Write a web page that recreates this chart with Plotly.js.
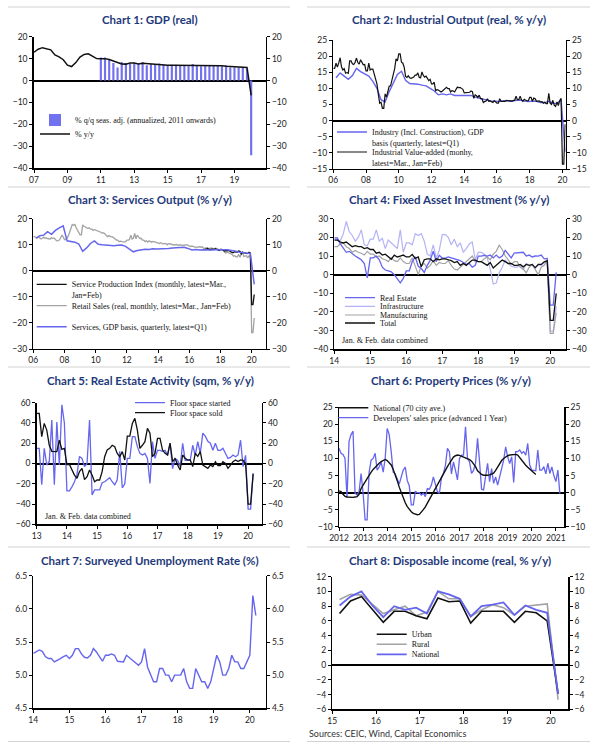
<!DOCTYPE html>
<html><head><meta charset="utf-8">
<script src="https://cdn.plot.ly/plotly-3.0.1.min.js"></script>
<style>html,body{margin:0;padding:0;background:#fff}#chart{width:600px;height:748px}</style>
</head><body><div id="chart"></div>
<script>
// ---------------- DATA ----------------
// Chart 1: GDP (real), quarterly from 2007Q1 / bars from 2011Q1
var gdpYoY = [12.9,14.3,15.0,14.4, 14.0,11.7,10.8,9.5, 7.0,6.4,8.2,10.7, 11.9,12.2,11.0,10.0,
  9.9,10.0,9.6,9.0, 8.1,7.6,7.5,8.0, 8.0,7.6,7.9,7.7, 7.5,7.5,7.2,7.2, 7.0,7.0,7.0,6.8,
  6.8,6.7,6.7,6.8, 6.9,6.9,6.8,6.8, 6.8,6.7,6.5,6.4, 6.3,6.2,6.0,6.0, -6.8];
var gdpQoQ = [10.5,10.5,9.5,8, 6,8.5,8,7.5, 8,7.5,8.5,7, 7.5,7.5,7.8,7.3, 7,7.2,7.2,7,
  7,6.5,7.5,7, 6.5,7,7,7, 7,6.5,7,6, 6,6,6,5.5, -34];
var xTicks1 = [2007,2009,2011,2013,2015,2017,2019];
var xLabels1 = ['07','09','11','13','15','17','19'];

// Chart 2: Industrial output, IVA monthly (Jan=Feb) from Jan 2006; GDP basis quarterly from 2006Q1
var iva = [16.2,16.2,17.8,16.6,17.9,19.5,16.7,15.7,16.1,14.7,14.9,14.7,
  18.5,18.5,17.6,17.4,18.1,19.4,18.0,17.5,18.9,17.9,17.3,17.4,
  15.4,15.4,17.8,15.7,16.0,16.0,14.7,12.8,11.4,8.2,5.4,5.7,
  3.8,3.8,8.3,7.3,8.9,10.7,10.8,12.3,13.9,16.1,19.2,18.5,
  20.7,20.7,18.1,17.8,16.5,13.7,13.4,13.9,13.3,13.1,13.3,13.5,
  14.1,14.1,14.8,13.4,13.3,15.1,14.0,13.5,13.8,13.2,12.4,12.8,
  11.4,11.4,11.9,9.3,9.6,9.5,9.2,8.9,9.2,9.6,10.1,10.3,
  9.9,9.9,8.9,9.3,9.2,8.9,9.7,10.4,10.2,10.3,10.0,9.7,
  8.6,8.6,8.8,8.7,8.8,9.2,9.0,6.9,8.0,7.7,7.2,7.9,
  6.8,6.8,5.6,5.9,6.1,6.8,6.0,6.1,5.7,5.6,6.2,5.9,
  5.4,5.4,6.8,6.0,6.0,6.2,6.0,6.3,6.1,6.1,6.2,6.0,
  6.3,6.3,7.6,6.5,6.5,7.6,6.4,6.0,6.6,6.2,6.1,6.2,
  7.2,7.2,6.0,7.0,6.8,6.0,6.0,6.1,5.8,5.9,5.4,5.7,
  5.3,5.3,8.5,5.4,5.0,6.3,4.8,4.4,5.8,4.7,6.2,6.9,
  -13.5,-13.5,-1.1];
var industryGdp = [13.3,14.8,13.8,12.8, 14.0,16.2,15.2,14.6, 13.8,12.2,10.0,6.5, 5.8,9.0,11.5,14.3,
  15.3,12.5,11.5,11.5, 11.3,11.0,10.8,10.0, 9.2,8.0,8.3,8.0, 8.3,7.8,7.8,8.0, 8.0,7.8,7.3,7.0,
  6.5,6.3,6.0,6.0, 5.9,6.2,6.1,6.0, 6.3,6.4,6.1,5.9, 6.1,6.0,5.6,5.6, 6.0,5.4,5.3,6.5, -9.6];
var xTicks2 = [2006,2008,2010,2012,2014,2016,2018,2020];
var xLabels2 = ['06','08','10','12','14','16','18','20'];

// Chart 3: Services output
var retailReal = [13.1,13.1,12.8,12.6,13.0,12.6,12.2,12.5,12.9,12.5,12.6,12.4,
  12.2,12.2,12.7,12.4,12.6,12.2,11.5,11.6,11.8,12.6,13.7,13.0,
  12.0,12.0,12.5,13.5,15.0,16.9,17.8,17.5,17.8,16.5,15.6,14.4,
  13.8,13.8,17.6,17.0,16.9,16.5,16.3,16.5,16.0,16.0,15.6,15.8,
  15.6,15.6,15.2,15.0,14.8,14.4,14.6,14.2,13.6,13.1,13.5,13.1,
  13.0,13.0,12.5,12.0,11.8,11.8,11.2,11.4,11.2,11.2,11.0,11.2,
  11.8,11.8,12.0,13.7,12.2,12.5,14.4,12.3,13.7,13.0,12.4,12.5,
  11.8,11.8,11.2,11.5,11.0,11.5,11.2,11.0,11.3,11.0,11.0,10.8,
  10.5,10.5,10.8,10.5,10.3,10.5,10.4,10.0,10.5,10.3,10.3,10.0,
  9.9,9.9,10.2,9.8,9.9,10.0,9.9,9.8,10.0,9.9,10.0,9.8,
  9.3,9.3,9.5,9.4,9.3,9.0,9.2,9.0,9.3,9.0,9.2,8.6,
  8.7,8.7,8.9,8.5,8.6,8.8,8.6,8.5,8.7,8.6,8.4,8.0,
  8.0,8.0,8.0,7.3,6.8,7.2,7.0,6.8,6.6,6.3,5.6,5.8,
  5.4,5.4,6.3,5.2,6.4,7.1,5.5,5.7,5.8,4.9,5.9,5.0,
  -23.7,-23.7,-18.1];
var serviceIndex = [8.3,8.3,8.6,8.3,8.1,8.3,8.3,8.2,8.5,8.1,8.0,7.8,
  8.2,8.2,7.8,7.6,7.7,7.9,7.8,7.6,7.2,7.0,7.0,7.4,
  7.2,7.2,7.6,7.5,6.5,7.2,6.9,6.8,6.9,6.6,7.1,6.8,
  -13.0,-13.0,-9.1];
var servicesGdp = [12.5,13.5,13.7,15.0, 14.0,15.5,16.5,17.3, 11.5,11.2,11.0,10.3, 7.5,8.8,10.5,11.5,
  10.2,10.0,9.8,9.8, 9.6,9.8,9.9,9.4, 8.5,7.3,7.8,8.0, 8.3,8.2,8.5,8.4, 8.4,8.4,8.6,8.8,
  8.9,8.9,9.0,8.6, 8.0,8.2,8.0,8.1, 8.0,8.0,8.1,8.2, 8.1,8.1,7.9,7.6, 7.2,7.0,6.9,6.6, -5.2];

// Chart 4: Fixed asset investment, monthly from Jan 2014
var faiRealEstate = [19.7,19.7,16.5,14,12,12.5,11,10,9,8,6,-1.7,
  9,9,10,8,4,2.5,2,1.5,0,-2.4,-4.4,-2,
  2,2,7,9.5,4.5,3.3,1.2,5,7.8,12.6,7,10.4,
  8.9,8.9,9.5,9,8.5,7.9,7.5,6.5,5.5,6,4,5,
  9.9,9.9,10.4,10,10.5,9,10.5,9,10,13,11,9,
  11.6,11.6,11.8,12,10,10.5,9.5,10,9.9,10.5,8.5,8.7,
  -16.3,-16.3,1.2];
var faiInfra = [19,19,18,22,28.5,23,21,18,20,24,16,15.5,
  19,19,24,18,19.5,14,18.5,17,15,14,24,12,
  17,17,16,22,21,22,18,11,10,16,9,13,
  21.5,21.5,20,16,19,15,17,12,14,16.5,17.5,8,
  12,12,11,9,3,-5,-4.5,1,4,7.8,6,4.5,
  4,4,5,2.5,6,5,5,3.5,5,5,6.5,7,
  -30.3,-30.3,-17];
var faiManuf = [15,15,16.5,17,15,14,12,13,12,11.5,10.5,12.5,
  11,11,9.5,10,8.5,8,7,9,7.5,7,9,7,
  6,6,9,4,0,5,6,3.5,5,7.5,5,6.5,
  6,6,7.5,5,3,2.5,4,5,6.5,8,10,7,
  7,7,8.5,9.5,8,11,12.5,15.8,13.5,10,8,5.5,
  7,7,4,3,1,4,5.5,3,0,4,5,7.5,
  -31.5,-31.5,-20.5];
var faiTotal = [18.5,18.5,17.5,17,17.5,16,15,15.5,15,15,14,14.5,
  13.5,13.5,11.5,12,10.5,11,9.5,8.3,10.5,9.5,10,10.5,
  9.5,9.5,10.8,8.7,9.5,4.2,8,8.5,8.5,7,8.5,8,
  8.5,8.5,8,7.5,6.5,7,5,6,5,6.5,7.8,7.8,
  7,7,6,5,6.5,3.6,5,6.5,7.8,7,6,6,
  5,5,5.5,4.2,5.5,5,5.5,3.8,5.5,5.5,6.9,7.5,
  -24.5,-24.5,-10];
var xTicks4 = [2014,2015,2016,2017,2018,2019,2020];
var xLabels4 = ['14','15','16','17','18','19','20'];

// Chart 5: Real estate activity, monthly from Jan 2013
var floorStarted = [15,15,-21,15,-1.5,2,43,-21,41,-1.5,58,40,
  -27,-27,-23,-18,-11,7,5,-3,0,43,-31,-26,
  -26,-26,-19,-18,-16,-14,-18,-21,-16,12,-24,-20,
  5,5,26.5,26.5,16.6,10,8.4,10,5,-19.6,21.5,5,
  13,13,12,13,8,20,-5,5,3,-3,20,3,
  3,3,18,8,21.5,10,30,27,22,20,13,20,
  13,13,15,10,5,6,8.4,6.7,8.4,23,-3,8,
  -45,-45,-10];
var floorSold = [49.5,49.5,26.5,39.6,33,18,12,12,11.7,23,14,15,
  -1,-1,-6.4,-11.4,-14.6,-8,-4.8,-16,-13,-6.4,-11.4,-18,
  -16.3,-16.3,-8,6.7,13.3,15,18,16.6,10,6.7,11.7,3.5,
  27,27,39.6,44.6,33,15,18,21.5,34.7,29.8,6.7,10,
  24.8,24.8,13.3,10,8.4,20,1.8,5,-1.5,-6.4,8.4,5,
  3.5,3.5,-3,10,7,11.7,-1.5,-3,-4.8,-1.5,-3,1.8,
  -2,-2,1.8,0,-4.8,-1.5,1.8,3.5,2,3.5,3,0,
  -40,-40,-10];
var xTicks5 = [2013,2014,2015,2016,2017,2018,2019,2020];
var xLabels5 = ['13','14','15','16','17','18','19','20'];

// Chart 6: Property prices, monthly from Jan 2012
var national70 = [0.5,0.3,-0.5,-1.1,-1.3,-1.4,-1.4,-1.4,-1.3,-1.2,-0.5,1.2,
  2.2,3.2,4.3,5.3,6.0,6.8,7.5,8.1,8.6,9.1,9.5,9.7,
  9.4,8.8,8.1,6.8,5.3,3.5,1.6,0,-1.6,-3,-4.1,-4.9,
  -5.6,-6.1,-6.4,-6.5,-6.4,-5.8,-5.0,-4.2,-3.1,-2.1,-1.0,0.3,
  1.2,2.2,3.3,4.5,5.6,6.5,7.6,8.6,9.6,10.4,10.8,11.0,
  10.9,10.7,10.4,10.2,10.0,9.7,9.2,8.5,7.6,6.4,5.8,5.3,
  5.1,5.0,5.1,5.2,5.4,5.7,6.5,7.6,8.6,9.4,10.0,10.5,
  10.8,11.0,11.1,11.2,11.2,11.0,10.2,9.4,8.6,8.0,7.4,6.9,
  6.3,5.8,5.3];
var developersPrice = [13,11.5,11.2,10,-1.5,15,17,18,-0.2,-0.7,0.3,5.6,
  -0.2,-8,-8,6,9.5,10,11.5,6.6,7.5,9,6,10,
  18.8,17,12,6,5.5,4.2,2.5,4.6,6.6,7.5,3.5,2,
  -3.6,-3.6,0.3,0,0,-0.7,-0.2,-1.2,1.2,1,2.2,4.6,
  2,0.3,-0.2,4.2,5.6,8,13,12,5.5,9,6.5,3.7,
  10,11,11,19.3,10,9,5.6,6.5,8.6,15.9,9,1,
  0.8,5,8.6,3.2,7,2.7,4.6,2.2,5,7,9.5,13.4,
  10.5,8.5,10.5,3,12,12,12.5,11.5,12,11,14.4,8,
  6.6,6.6,6.4,12.5,6.6,6.6,7.6,5.5,8.6,5.6,7.5,5,
  3.2,6.6,-0.3];
var xTicks6 = [2012,2013,2014,2015,2016,2017,2018,2019,2020,2021];
var xLabels6 = ['2012','2013','2014','2015','2016','2017','2018','2019','2020','2021'];

// Chart 7: Surveyed unemployment rate, monthly from Jan 2014
var unemployment = [5.33,5.36,5.38,5.36,5.28,5.25,5.25,5.2,5.22,5.25,5.28,5.3,
  5.25,5.3,5.4,5.4,5.32,5.27,5.26,5.3,5.4,5.35,5.28,5.21,
  5.3,5.3,5.32,5.3,5.21,5.2,5.2,5.3,5.26,5.22,5.18,5.15,
  5.2,5.4,5.12,5.0,4.9,4.9,5.1,5.1,5.0,5.0,4.9,5.0,
  5.0,5.0,5.1,4.9,4.8,4.8,5.1,5.0,4.9,4.9,4.8,4.9,
  5.1,5.3,5.2,5.0,5.0,5.1,5.3,5.2,5.2,5.1,5.1,5.2,
  5.3,6.2,5.9];

// Chart 8: Disposable income, quarterly from 2015Q1
var incomeUrban = [7.0,8.7,9.3,7.5, 5.8,7.3,7.3,6.7, 6.3,9.1,8.6,8.7, 5.7,7.3,7.3,7.3, 5.8,7.3,7.1,6.0, -3.9];
var incomeRural = [8.9,9.6,9.5,8.2, 7.0,7.5,8.0,6.7, 7.2,10.0,9.0,9.0, 6.6,7.5,8.2,7.8, 6.8,8.0,8.1,8.3, -4.7];
var incomeNational = [8.1,9.3,10.0,8.1, 6.5,8.0,7.5,7.8, 7.0,10.0,9.6,9.0, 6.6,8.0,8.2,8.5, 6.8,8.1,7.5,7.1, -3.9];
var xTicks8 = [2015,2016,2017,2018,2019,2020];
var xLabels8 = ['15','16','17','18','19','20'];

// ---------------- HELPERS ----------------
function monthly(startYear, n){ var a=[]; for(var i=0;i<n;i++) a.push(startYear + i/12); return a; }
function quarterly(startYear, n, off){ var a=[]; for(var i=0;i<n;i++) a.push(startYear + i/4 + off); return a; }
var W = 600, H = 748;
var BLUE = '#6565ee', LBLUE = '#b3b3f5', GREY = '#a3a3a3', BLACK = '#111111', NAVY = '#1f3a7a';
var tickFont = {family:'Lato', size:8.5, color:'#222'};

var layout = {width:W, height:H, margin:{l:0,r:0,t:0,b:0}, paper_bgcolor:'#fff', plot_bgcolor:'rgba(0,0,0,0)',
  showlegend:true, hovermode:false, font:{family:'Lato', size:9, color:'#222'}, annotations:[], shapes:[]};
var data = [];

function yvals(r, d){ var a=[]; for(var v=r[0]; v<=r[1]+1e-9; v+=d) a.push(Math.round(v*100)/100); return a; }

function addPanel(k, box, xr, xt, xl, yr, dy, fmt, zero){
  var xn = k===1 ? 'xaxis' : 'xaxis'+k, xid = k===1 ? 'x' : 'x'+k;
  var yn = k===1 ? 'yaxis' : 'yaxis'+k, yid = k===1 ? 'y' : 'y'+k;
  var yr2 = 'yaxis'+(k+8), yid2 = 'y'+(k+8);
  var tv = yvals(yr, dy);
  layout[xn] = {domain:[box[0]/W, box[1]/W], range:xr, anchor:yid, tickmode:'array', tickvals:xt, ticktext:xl,
    showline:true, linecolor:'#000', linewidth:1.2, ticks:'outside', ticklen:3, tickcolor:'#000',
    showgrid:false, zeroline:false, tickfont:tickFont, fixedrange:true};
  var yb = {range:yr, anchor:xid, tickmode:'array', tickvals:tv, tickformat:fmt, showline:true, linecolor:'#000',
    linewidth:1.5, ticks:'outside', ticklen:3, tickcolor:'#000', showgrid:false, tickfont:tickFont, fixedrange:true};
  layout[yn] = Object.assign({}, yb, {domain:[1-box[3]/H, 1-box[2]/H], zeroline:zero, zerolinecolor:'#000', zerolinewidth:2});
  layout[yr2] = Object.assign({}, yb, {overlaying:yid, side:'right', zeroline:false});
  return {x:xid, y:yid, y2:yid2};
}

var LEG = 0;
function addLegend(left, rowY, twoLine){
  LEG++;
  var id = LEG===1 ? 'legend' : 'legend'+LEG;
  var top = twoLine ? rowY - 11.7 : rowY - 14.5;
  layout[id] = {x:left/W, y:1-top/H, xanchor:'left', yanchor:'top', bgcolor:'rgba(0,0,0,0)', borderwidth:0,
    font:{family:'Liberation Serif', size:8, color:'#111'}, valign: twoLine ? 'top' : 'middle'};
  return id;
}
// right=true puts the series on the panel's right-hand (secondary) axis, which shares the same scale
function line(ax, x, y, color, width, name, leg, right){
  var t = {type:'scatter', mode:'lines', x:x, y:y, xaxis:ax.x, yaxis: right ? ax.y2 : ax.y,
    line:{color:color, width:width}, name:name};
  if(leg){ t.legend = leg; } else { t.showlegend = false; }
  data.push(t);
  return t;
}
function title(cx, cy, text){
  layout.annotations.push({xref:'paper', yref:'paper', x:cx/W, y:1-cy/H, xanchor:'center', yanchor:'middle',
    showarrow:false, text:'<b>'+text+'</b>', font:{family:'Lato', size:11.5, color:NAVY}});
}
function note(lx, cy, text, font){
  layout.annotations.push({xref:'paper', yref:'paper', x:lx/W, y:1-cy/H, xanchor:'left', yanchor:'middle',
    showarrow:false, text:text, font:font});
}
var noteFont = {family:'Liberation Serif', size:8, color:'#111'};

// ---------------- PANELS ----------------
// Chart 1
var a1 = addPanel(1, [33.7,265.7,36.7,168.3], [2006.98,2020.87], xTicks1, xLabels1, [-40,20], 10, 'd', true);
data.push({type:'bar', x:quarterly(2011, gdpQoQ.length, 0), y:gdpQoQ, xaxis:a1.x, yaxis:a1.y, width:0.13,
  marker:{color:'#7272ee', line:{width:0}}, name:'% q/q seas. adj. (annualized, 2011 onwards)', legend:addLegend(35,120,false)});
line(a1, quarterly(2007, gdpYoY.length, 0), gdpYoY, BLACK, 1.5, '% y/y', addLegend(35,134,false), true);
title(150, 20, 'Chart 1: GDP (real)');

// Chart 2
var a2 = addPanel(2, [333.3,565.7,40,169], [2006,2020.2], xTicks2, xLabels2, [-15,25], 5, 'd', true);
line(a2, quarterly(2006, industryGdp.length, 2/12), industryGdp, BLUE, 1.4,
  'Industry (Incl. Construction), GDP<br>basis (quarterly, latest=Q1)', addLegend(332,132,true));
line(a2, monthly(2006, iva.length), iva, BLACK, 1.2,
  'Industrial Value-added (monhy,<br>latest=Mar., Jan=Feb)', addLegend(332,152,true), true);
title(449, 20, 'Chart 2: Industrial Output (real, % y/y)');

// Chart 3
var a3 = addPanel(3, [33.3,265.7,218.7,349], [2006,2020.9], xTicks2, xLabels2, [-30,20], 10, 'd', true);
var l3a = addLegend(31.7,284.3,true), l3b = addLegend(31.7,305.7,false), l3c = addLegend(31.7,326.7,false);
line(a3, monthly(2006, retailReal.length), retailReal, GREY, 1.3,
  'Retail Sales (real, monthly, latest=Mar., Jan=Feb)', l3b);
line(a3, monthly(2017, serviceIndex.length), serviceIndex, BLACK, 1.3,
  'Service Production Index (monthly, latest=Mar.,<br>Jan=Feb)', l3a);
line(a3, quarterly(2006, servicesGdp.length, 2/12), servicesGdp, BLUE, 1.5,
  'Services, GDP basis, quarterly, latest=Q1)', l3c, true);
title(150, 200, 'Chart 3: Services Output (% y/y)');

// Chart 4
var a4 = addPanel(4, [334.3,565.7,218.7,349.3], [2014,2020.43], xTicks4, xLabels4, [-40,30], 10, 'd', true);
var l4a = addLegend(340,297.7,false), l4b = addLegend(340,306.3,false), l4c = addLegend(340,315,false), l4d = addLegend(340,323,false);
var m4 = monthly(2014, faiTotal.length);
line(a4, m4, faiInfra, LBLUE, 1.2, 'Infrastructure', l4b);
line(a4, m4, faiManuf, GREY, 1.2, 'Manufacturing', l4c);
line(a4, m4, faiRealEstate, BLUE, 1.3, 'Real Estate', l4a);
line(a4, m4, faiTotal, BLACK, 1.3, 'Total', l4d, true);
note(340, 340, 'Jan. &amp; Feb. data combined', noteFont);
title(449, 200, 'Chart 4: Fixed Asset Investment (% y/y)');

// Chart 5
var a5 = addPanel(5, [36.7,261.7,402.7,524.3], [2013,2020.45], xTicks5, xLabels5, [-60,60], 20, 'd', true);
var m5 = monthly(2013, floorSold.length);
line(a5, m5, floorStarted, BLUE, 1.3, 'Floor space started', addLegend(130,402.7,false));
line(a5, m5, floorSold, BLACK, 1.3, 'Floor space sold', addLegend(130,412.7,false), true);
note(43.3, 516.7, 'Jan. &amp; Feb. data combined', noteFont);
title(150, 380, 'Chart 5: Real Estate Activity (sqm, % y/y)');

// Chart 6
var a6 = addPanel(6, [339,564.3,407.3,526.7], [2012,2021.35], xTicks6, xLabels6, [-10,25], 5, 'd', true);
var l6a = addLegend(333.3,407.7,false), l6b = addLegend(333.3,417.7,false);
line(a6, monthly(2012, developersPrice.length), developersPrice, BLUE, 1.3, "Developers' sales price (advanced 1 Year)", l6b);
line(a6, monthly(2012, national70.length), national70, BLACK, 1.4, 'National (70 city ave.)', l6a, true);
title(451, 380, 'Chart 6: Property Prices (% y/y)');

// Chart 7 (single series: drawn on the left axis; a transparent copy anchors the mirrored right axis)
var a7 = addPanel(7, [33.3,265.7,575.7,708.3], [2014,2020.44], xTicks4, xLabels4, [4.5,6.5], 0.5, '.1f', false);
var m7 = monthly(2014, unemployment.length);
line(a7, m7, unemployment, BLUE, 1.4, 'Surveyed unemployment rate', null, false);
var r7 = line(a7, m7, unemployment, BLUE, 1.4, 'Surveyed unemployment rate', null, true);
r7.opacity = 0;
title(150, 560, 'Chart 7: Surveyed Unemployment Rate (%)');

// Chart 8
var a8 = addPanel(8, [332.3,568.3,576.7,709.3], [2015,2020.4], xTicks8, xLabels8, [-6,12], 2, 'd', true);
var l8a = addLegend(371.7,634.3,false), l8b = addLegend(371.7,644.3,false), l8c = addLegend(371.7,654.3,false);
var q8 = quarterly(2015, incomeUrban.length, 2/12);
line(a8, q8, incomeRural, GREY, 1.6, 'Rural', l8b);
line(a8, q8, incomeUrban, BLACK, 1.6, 'Urban', l8a);
line(a8, q8, incomeNational, BLUE, 1.8, 'National', l8c, true);
title(450, 560, 'Chart 8: Disposable income (real, % y/y)');
note(307.3, 733.3, 'Sources: CEIC, Wind, Capital Economics', {family:'Lato', size:9, color:'#333'});

// separators
[7, 187, 367, 547, 741.5].forEach(function(yy){
  [[8,290],[307,590]].forEach(function(seg){
    layout.shapes.push({type:'line', xref:'paper', yref:'paper', x0:seg[0]/W, x1:seg[1]/W, y0:1-yy/H, y1:1-yy/H,
      line:{color:'#d2d2d2', width:1}});
  });
});

Plotly.newPlot('chart', data, layout, {staticPlot:true, displayModeBar:false});
</script>
</body></html>
